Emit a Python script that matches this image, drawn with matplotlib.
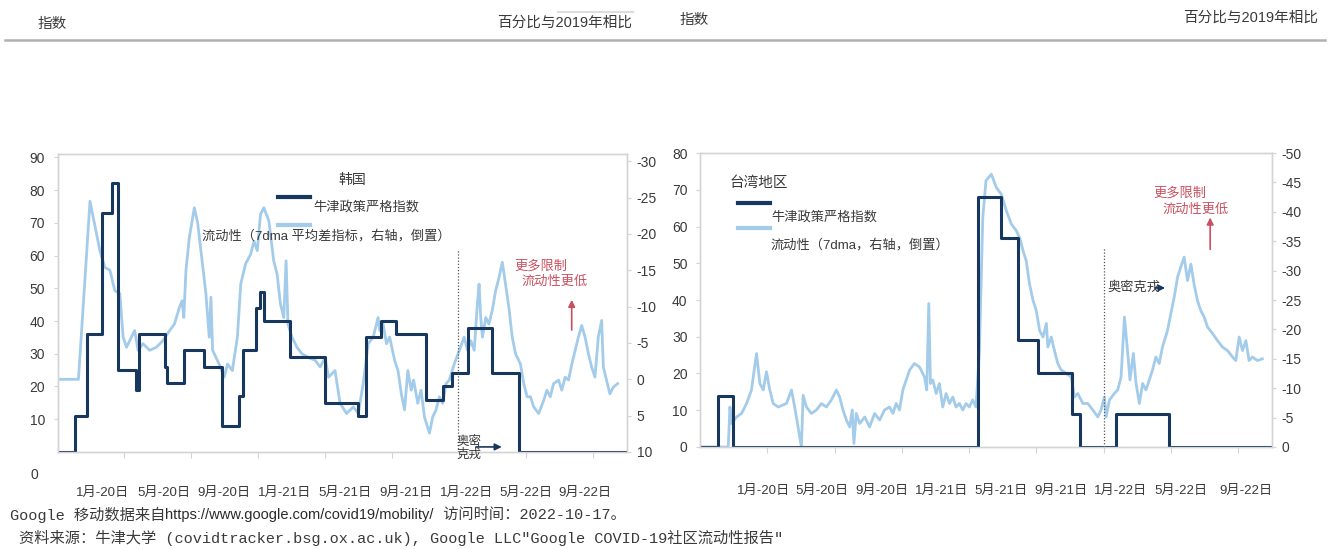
import matplotlib
matplotlib.use('Agg')
import matplotlib.pyplot as plt
from matplotlib.lines import Line2D

plt.rcParams['font.family'] = ['Liberation Sans', 'Noto Sans CJK SC']
plt.rcParams['axes.unicode_minus'] = False

# x 轴单位：自2020年1月1日起的月数
x_labels = ['1月-20日', '5月-20日', '9月-20日', '1月-21日', '5月-21日',
            '9月-21日', '1月-22日', '5月-22日', '9月-22日']

# 韩国：牛津政策严格指数（阶梯）
kr_idx_m = [0, 1.03, 1.74, 2.63, 3.23, 3.62, 4.71, 4.87, 6.39, 6.53, 7.58, 8.76,
            9.85, 10.84, 11.07, 11.83, 12.12, 12.32, 13.90, 15.98, 17.95, 18.41,
            19.34, 20.23, 22.01, 23.0, 23.55, 24.48, 25.96, 27.54, 33.9]
kr_idx_v = [0, 11, 36, 73, 82, 25, 19, 36, 26, 21, 31, 26,
            8, 17, 31, 44, 49, 40, 29, 15, 11, 35,
            40, 36, 16, 20, 24, 38, 24, 0, 0]

# 韩国：流动性（右轴，倒置）
kr_mob_m = [0, 1.25, 1.94, 2.53, 2.83, 3.13, 3.42, 3.72, 3.92, 4.12, 4.41, 4.61,
            4.81, 5.10, 5.50, 5.90, 6.29, 6.69, 6.98, 7.28, 7.44, 7.54, 7.67, 7.87,
            8.17, 8.37, 8.56, 8.86, 9.06, 9.16, 9.26, 9.65, 9.95, 10.15, 10.44, 10.74,
            10.94, 11.23, 11.53, 11.73, 11.93, 12.12, 12.32, 12.62, 12.91, 13.11, 13.31,
            13.51, 13.65, 13.76, 14.0, 14.3, 14.6, 14.99, 15.39, 15.68, 15.98, 16.18,
            16.57, 16.87, 17.26, 17.66, 17.96, 18.25, 18.55, 18.85, 19.14, 19.24, 19.44,
            19.64, 19.83, 20.13, 20.33, 20.53, 20.72, 20.92, 21.12, 21.26, 21.51, 21.71,
            21.91, 22.21, 22.40, 22.60, 22.80, 23.0, 23.2, 23.39, 23.69, 23.99, 24.28,
            24.48, 24.68, 24.88, 25.07, 25.17, 25.27, 25.37, 25.57, 25.76, 25.96, 26.16,
            26.36, 26.56, 26.75, 26.95, 27.15, 27.35, 27.64, 27.84, 28.04, 28.24, 28.43,
            28.73, 29.03, 29.22, 29.42, 29.62, 29.92, 30.11, 30.31, 30.51, 30.71, 30.91,
            31.10, 31.30, 31.50, 31.70, 31.89, 32.09, 32.29, 32.49, 32.59, 32.78, 32.98,
            33.18, 33.44]
kr_mob_v = [0, 0, -24.5, -17.7, -15.4, -15.0, -12.2, -11.8, -5.8, -4.4, -5.8, -6.7,
            -4.0, -4.9, -4.0, -4.4, -5.3, -6.7, -7.6, -9.9, -10.8, -8.5, -15.0, -19.5,
            -23.6, -21.5, -17.7, -11.8, -5.8, -11.3, -4.0, -2.1, -0.3, -2.1, -1.2, -5.8,
            -13.1, -15.9, -17.2, -19.0, -17.7, -22.7, -23.6, -21.8, -16.3, -14.5, -10.4,
            -8.5, -16.3, -7.6, -5.8, -4.4, -3.5, -3.0, -2.6, -1.7, -3.0, -0.3,
            -1.2, 3.3, 4.7, 3.8, 4.7, 0.6, -4.9, -5.8, -8.5, -6.7, -7.6,
            -4.9, -5.8, -2.6, -1.2, 2.0, 4.2, -1.2, 1.5, 0.1, 3.3, 1.5,
            5.2, 7.4, 5.2, 4.2, 2.4, 3.3, 0.6, 0.1, -2.1, -4.0, -5.8,
            -4.0, -5.3, -4.0, -10.4, -13.1, -8.5, -5.8, -8.5, -7.6, -9.5, -12.2,
            -14.0, -16.1, -13.1, -9.9, -5.8, -3.5, -2.1, 0.6, 2.4, 2.4, 3.8,
            4.7, 2.9, 1.5, 2.4, 0.6, 0.1, 1.5, -0.3, 0.1, -2.1, -4.0,
            -5.8, -7.4, -5.8, -3.5, -1.7, -0.3, -5.8, -8.1, -1.7, 0.1, 2.0,
            1.1, 0.6]

# 台湾地区：牛津政策严格指数（阶梯）
tw_idx_m = [0, 1.09, 1.98, 16.5, 17.91, 18.90, 20.09, 22.12, 22.56, 24.73, 27.89, 34]
tw_idx_v = [0, 14, 0, 68, 57, 29, 20, 9, 0, 9, 0, 0]

# 台湾地区：流动性（右轴，倒置）
tw_mob_m = [0, 1.68, 1.78, 1.88, 2.17, 2.47, 2.77, 3.06, 3.36, 3.56, 3.76, 3.95,
            4.15, 4.35, 4.65, 5.14, 5.44, 5.63, 5.73, 5.93, 6.03, 6.13, 6.33, 6.62,
            6.92, 7.22, 7.51, 7.81, 8.11, 8.30, 8.50, 8.70, 8.90, 9.05, 9.15, 9.29,
            9.49, 9.79, 10.08, 10.38, 10.68, 10.97, 11.27, 11.47, 11.66, 11.86, 12.06,
            12.26, 12.46, 12.75, 13.05, 13.35, 13.48, 13.60, 13.70, 13.84, 14.04, 14.23,
            14.43, 14.63, 14.83, 15.03, 15.22, 15.42, 15.62, 15.82, 16.01, 16.21, 16.41,
            16.61, 16.71, 16.81, 17.0, 17.32, 17.62, 17.91, 18.21, 18.51, 18.80, 19.0,
            19.20, 19.39, 19.59, 19.80, 19.99, 20.19, 20.39, 20.59, 20.68, 20.88, 21.07,
            21.27, 21.47, 21.77, 22.07, 22.26, 22.46, 22.76, 23.05, 23.35, 23.65, 23.84,
            24.04, 24.14, 24.34, 24.63, 24.83, 25.03, 25.23, 25.43, 25.56, 25.76, 25.92,
            26.12, 26.31, 26.51, 26.71, 26.90, 27.10, 27.30, 27.49, 27.79, 27.99, 28.19,
            28.39, 28.58, 28.78, 28.98, 29.18, 29.37, 29.57, 29.77, 29.97, 30.17, 30.47,
            30.76, 31.06, 31.36, 31.66, 31.85, 32.05, 32.25, 32.45, 32.64, 32.84, 33.14,
            33.43]
tw_mob_v = [0, 0, -6.8, -4.0, -5.1, -5.7, -7.4, -9.7, -15.9, -10.8, -9.7, -12.8,
            -9.7, -7.4, -6.8, -7.4, -9.7, -6.8, -5.1, -1.7, 0, -8.8, -6.8, -5.7,
            -6.3, -7.4, -6.8, -8.0, -9.7, -8.5, -6.3, -4.6, -3.4, -6.3, -0.6, -5.7,
            -4.0, -5.1, -3.4, -5.7, -4.6, -6.3, -6.8, -5.7, -7.4, -6.3, -9.7,
            -11.4, -13.1, -14.2, -13.6, -11.9, -9.7, -24.4, -10.8, -11.4, -9.1, -10.8,
            -6.8, -9.1, -7.4, -8.5, -6.8, -7.4, -6.3, -7.4, -6.8, -8.0, -6.8,
            -16.4, -27.7, -39.0, -45.3, -46.4, -44.1, -43.0, -40.2, -37.9, -36.8, -35.6,
            -33.4, -31.7, -27.7, -24.9, -23.2, -19.8, -18.7, -21.0, -17.0, -18.7, -16.4,
            -14.2, -13.1, -12.5, -11.9, -8.5, -9.1, -7.4, -7.4, -6.3, -5.1, -6.3,
            -8.5, -5.1, -8.0, -9.1, -9.7, -11.9, -22.1, -15.9, -11.4, -15.9, -10.8,
            -7.4, -10.8, -9.7, -11.4, -13.1, -15.3, -14.2, -17.0, -19.8, -22.7, -25.5,
            -28.9, -30.6, -32.3, -28.3, -31.1, -27.7, -24.9, -23.2, -22.1, -20.4, -19.3,
            -18.1, -17.0, -16.4, -15.3, -14.7, -18.7, -16.4, -18.1, -14.7, -15.3, -14.7,
            -15.0]

# 奥密克戎出现的时间（月）
kr_omicron = 23.89
tw_omicron = 24.04

# 标签位置
kr_lab_pos = [2.69, 6.35, 9.91, 13.55, 17.17, 20.79, 24.41, 27.97, 31.47]
tw_lab_pos = [3.80, 7.24, 10.79, 14.35, 17.91, 21.47, 25.03, 28.59, 32.44]

dark = '#17375e'
light = '#a3cbea'
red = '#c9505e'
frame_c = '#d4d4d4'
txt_c = '#3a3a3a'
mono_cjk = ['Liberation Mono', 'Noto Sans CJK SC']

fig = plt.figure(figsize=(13.28, 5.49), dpi=100)


def draw_panel(rect, idx_m, idx_v, mob_m, mob_v, lab_pos, ylim_l, ylim_r,
               yticks_l, yticks_r, omicron, xpad):
    ax = fig.add_axes(rect)
    ax2 = ax.twinx()
    ax2.plot(mob_m, mob_v, color=light, lw=2.0, solid_joinstyle='round')
    ax.step(idx_m, idx_v, where='post', color=dark, lw=2.2)
    ax.set_zorder(ax2.get_zorder() + 1)
    ax.patch.set_visible(False)

    ax.set_xlim(0, 34)
    ax.set_ylim(*ylim_l)
    ax2.set_ylim(*ylim_r)
    ax.set_yticks(yticks_l)
    ax2.set_yticks(yticks_r)

    ax.set_xticks([4, 8, 12, 16, 20, 24, 28, 32], labels=[''] * 8)
    ax.set_xticks(lab_pos, labels=x_labels, minor=True)
    ax.tick_params(axis='x', which='major', length=4, color=frame_c)
    ax.tick_params(axis='x', which='minor', length=0, pad=xpad,
                   labelsize=9.5, labelcolor=txt_c)
    ax.tick_params(axis='y', length=3, color=frame_c, pad=6,
                   labelsize=10, labelcolor=txt_c)
    ax2.tick_params(axis='y', length=3, color=frame_c, pad=4,
                    labelsize=10, labelcolor=txt_c)
    for a in (ax, ax2):
        for s in a.spines.values():
            s.set_color(frame_c)
            s.set_linewidth(1.0)

    ax.axvline(omicron, ymin=0, ymax=0.68, color='#555555',
               ls=(0, (1, 1.5)), lw=0.9)
    return ax


# 韩国
ax = draw_panel([0.0433, 0.1767, 0.4288, 0.5428], kr_idx_m, kr_idx_v,
                kr_mob_m, kr_mob_v, kr_lab_pos, (0, 91), (10, -31),
                range(10, 91, 10), range(-30, 11, 5), kr_omicron, 25)
ax.text(-0.033, -0.077, '0', transform=ax.transAxes, ha='right', va='center',
        fontsize=10, color=txt_c)
ax.text(0.517, 0.913, '韩国', transform=ax.transAxes, ha='center', va='center',
        fontsize=10, color=txt_c)
ax.add_line(Line2D([0.387, 0.443], [0.856, 0.856], transform=ax.transAxes,
                   color=dark, lw=3))
ax.text(0.449, 0.822, '牛津政策严格指数', transform=ax.transAxes,
        va='center', fontsize=9.5, color=txt_c)
ax.add_line(Line2D([0.387, 0.443], [0.762, 0.762], transform=ax.transAxes,
                   color=light, lw=3))
ax.text(0.254, 0.725, '流动性（7dma 平均差指标，右轴，倒置）', transform=ax.transAxes,
        va='center', fontsize=9.5, color=txt_c)
ax.text(0.803, 0.624, '更多限制', transform=ax.transAxes, va='center',
        fontsize=9.5, color=red)
ax.text(0.815, 0.57, '流动性更低', transform=ax.transAxes, va='center',
        fontsize=9.5, color=red)
ax.annotate('', xy=(0.903, 0.52), xytext=(0.903, 0.40), xycoords='axes fraction',
            arrowprops=dict(arrowstyle='-|>', color=red, lw=1.2, mutation_scale=10))
ax.text(0.70, 0.012, '奥密\n克戎', transform=ax.transAxes, va='center',
        fontsize=9, color=txt_c, linespacing=1.0)
ax.annotate('', xy=(0.785, 0.017), xytext=(0.73, 0.017), xycoords='axes fraction',
            arrowprops=dict(arrowstyle='-|>', color=dark, lw=1.2, mutation_scale=10))
ax_kr = ax

# 台湾地区
ax = draw_panel([0.5271, 0.1858, 0.4307, 0.5355], tw_idx_m, tw_idx_v,
                tw_mob_m, tw_mob_v, tw_lab_pos, (0, 80), (0, -50),
                range(0, 81, 10), range(-50, 1, 5), tw_omicron, 27)
ax.text(0.0524, 0.898, '台湾地区', transform=ax.transAxes, va='center',
        fontsize=10.5, color=txt_c)
ax.add_line(Line2D([0.066, 0.122], [0.83, 0.83], transform=ax.transAxes,
                   color=dark, lw=3))
ax.text(0.124, 0.782, '牛津政策严格指数', transform=ax.transAxes,
        va='center', fontsize=9.5, color=txt_c)
ax.add_line(Line2D([0.066, 0.122], [0.745, 0.745], transform=ax.transAxes,
                   color=light, lw=3))
ax.text(0.124, 0.687, '流动性（7dma，右轴，倒置）', transform=ax.transAxes,
        va='center', fontsize=9.5, color=txt_c)
ax.text(0.792, 0.864, '更多限制', transform=ax.transAxes, va='center',
        fontsize=9.5, color=red)
ax.text(0.808, 0.806, '流动性更低', transform=ax.transAxes, va='center',
        fontsize=9.5, color=red)
ax.annotate('', xy=(0.892, 0.79), xytext=(0.892, 0.663), xycoords='axes fraction',
            arrowprops=dict(arrowstyle='-|>', color=red, lw=1.2, mutation_scale=10))
ax.text(0.712, 0.544, '奥密克戎', transform=ax.transAxes, va='center',
        fontsize=9.5, color=txt_c)
ax.annotate('', xy=(0.818, 0.541), xytext=(0.79, 0.541), xycoords='axes fraction',
            arrowprops=dict(arrowstyle='-|>', color=dark, lw=1.2, mutation_scale=9))

# 顶部单位说明和分隔线
fig.text(0.0286, 0.957, '指数', fontsize=10.5, color=txt_c, va='center')
fig.text(0.374, 0.958, '百分比与2019年相比', fontsize=10.5, color=txt_c, va='center')
fig.text(0.512, 0.964, '指数', fontsize=10.5, color=txt_c, va='center')
fig.text(0.891, 0.967, '百分比与2019年相比', fontsize=10.5, color=txt_c, va='center')
fig.add_artist(Line2D([0.42, 0.477], [0.978, 0.978], color='#dddddd', lw=1.5))
fig.add_artist(Line2D([0.004, 0.998], [0.927, 0.927], color='#b0b0b0', lw=1.8))

# 底部来源
t1 = fig.text(0.0075, 0.062, 'Google 移动数据来自', family=mono_cjk,
              fontsize=11, color=txt_c, va='center')
t2 = ax_kr.annotate('https://www.google.com/covid19/mobility/', xy=(1, 0.5),
                    xycoords=t1, va='center', ha='left', fontsize=10.5,
                    color='#2a2a2a', annotation_clip=False)
ax_kr.annotate(' 访问时间：2022-10-17。', xy=(1, 0.5), xycoords=t2,
               va='center', ha='left', family=mono_cjk, fontsize=11,
               color=txt_c, annotation_clip=False)
fig.text(0.0145, 0.020,
         '资料来源：牛津大学 (covidtracker.bsg.ox.ac.uk), Google LLC"Google COVID-19社区流动性报告"',
         family=mono_cjk, fontsize=11, color=txt_c, va='center')

fig.savefig('out.png', dpi=100, facecolor='white')
